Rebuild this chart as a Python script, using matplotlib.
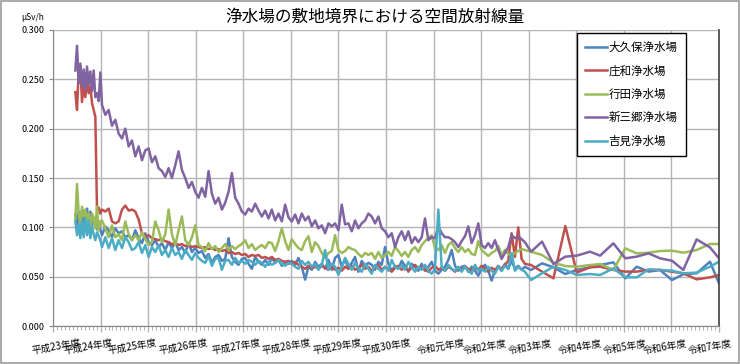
import numpy as np
import matplotlib
matplotlib.use('Agg')
import matplotlib.pyplot as plt
from matplotlib.ticker import MultipleLocator
from matplotlib.patches import Rectangle

plt.rcParams['font.family'] = ['Noto Sans CJK JP', 'DejaVu Sans']

# time in years from the left edge of the chart (one grid column = one fiscal year)
earlyTimes = np.arange(0.47, 1.0, 0.035)
monthlyTimes = 1.03 + 0.07 * np.arange(128)
quarterlyTimes = [10.05, 10.28, 10.52, 10.77, 11.01, 11.29, 11.50, 11.78, 12.03,
                  12.27, 12.52, 12.76, 13.01, 13.25, 13.53, 13.81, 14.0]

names = ['大久保浄水場', '庄和浄水場', '行田浄水場', '新三郷浄水場', '吉見浄水場']
colors = ['#4F81BD', '#C0504D', '#9BBB59', '#8064A2', '#4BACC6']

yearLabels = ['平成23年度', '平成24年度', '平成25年度', '平成26年度', '平成27年度',
              '平成28年度', '平成29年度', '平成30年度', '令和元年度', '令和2年度',
              '令和3年度', '令和4年度', '令和5年度', '令和6年度', '令和7年度']
yearLabelTimes = [0.06, 0.74, 1.66, 2.75, 3.85, 4.90, 5.97, 7.00, 8.16, 9.08,
                  10.03, 11.08, 12.02, 12.87, 13.81]

# 大久保
okuboEarly = [0.113, 0.103, 0.116, 0.099, 0.118, 0.101, 0.112, 0.119,
              0.104, 0.116, 0.101, 0.110, 0.107, 0.098, 0.104, 0.097]
okuboMonthly = [0.092, 0.101, 0.097, 0.090, 0.099, 0.094, 0.096, 0.090, 0.092, 0.087,
                0.097, 0.089, 0.084, 0.094, 0.085, 0.082, 0.087, 0.080, 0.084, 0.077,
                0.085, 0.079, 0.085, 0.077, 0.080, 0.074, 0.084, 0.075, 0.079, 0.074,
                0.076, 0.069, 0.073, 0.064, 0.070, 0.072, 0.066, 0.068, 0.089, 0.070,
                0.065, 0.062, 0.068, 0.069, 0.063, 0.058, 0.070, 0.065, 0.062, 0.067,
                0.062, 0.069, 0.064, 0.067, 0.061, 0.065, 0.063, 0.066, 0.062, 0.069,
                0.060, 0.047, 0.060, 0.057, 0.065, 0.060, 0.063, 0.058, 0.067, 0.057,
                0.069, 0.072, 0.060, 0.068, 0.058, 0.064, 0.070, 0.055, 0.066, 0.061,
                0.064, 0.062, 0.057, 0.065, 0.062, 0.080, 0.063, 0.056, 0.061, 0.058,
                0.066, 0.061, 0.055, 0.063, 0.060, 0.056, 0.063, 0.056, 0.060, 0.065,
                0.056, 0.053, 0.057, 0.060, 0.067, 0.077, 0.061, 0.056, 0.060, 0.061,
                0.055, 0.060, 0.056, 0.051, 0.058, 0.062, 0.056, 0.046, 0.056, 0.061,
                0.056, 0.063, 0.058, 0.066, 0.058, 0.061, 0.057, 0.060]
okuboQuarterly = [0.0568, 0.0635, 0.0595, 0.0527, 0.0568, 0.0595, 0.0618, 0.0645, 0.0483,
                  0.0601, 0.0551, 0.0568, 0.0466, 0.0524, 0.0534, 0.0652, 0.0432]

# 庄和
showaEarly = [0.237, 0.219, 0.259, 0.263, 0.227, 0.245, 0.232, 0.249,
              0.236, 0.243, 0.226, 0.219, 0.212, 0.118, 0.120, 0.114]
showaMonthly = [0.118, 0.116, 0.119, 0.106, 0.104, 0.106, 0.118, 0.122, 0.117, 0.118,
                0.116, 0.108, 0.094, 0.091, 0.092, 0.089, 0.088, 0.087, 0.088, 0.086,
                0.085, 0.083, 0.084, 0.082, 0.083, 0.081, 0.082, 0.080, 0.081, 0.080,
                0.079, 0.080, 0.078, 0.079, 0.077, 0.078, 0.076, 0.077, 0.074, 0.075,
                0.073, 0.074, 0.072, 0.073, 0.070, 0.072, 0.071, 0.072, 0.069, 0.070,
                0.068, 0.070, 0.067, 0.068, 0.066, 0.065, 0.066, 0.063, 0.065, 0.062,
                0.060, 0.058, 0.061, 0.059, 0.060, 0.058, 0.061, 0.059, 0.057, 0.060,
                0.057, 0.059, 0.056, 0.060, 0.058, 0.061, 0.057, 0.059, 0.062, 0.058,
                0.060, 0.056, 0.059, 0.062, 0.057, 0.060, 0.058, 0.055, 0.059, 0.061,
                0.057, 0.060, 0.056, 0.059, 0.062, 0.058, 0.060, 0.057, 0.055, 0.059,
                0.061, 0.057, 0.059, 0.056, 0.060, 0.058, 0.055, 0.059, 0.057, 0.060,
                0.058, 0.056, 0.059, 0.057, 0.061, 0.058, 0.055, 0.059, 0.057, 0.060,
                0.058, 0.062, 0.066, 0.094, 0.070, 0.100, 0.068, 0.063]
showaQuarterly = [0.0618, 0.0551, 0.0483, 0.1013, 0.0541, 0.0595, 0.0601, 0.0568, 0.0551,
                  0.0551, 0.0568, 0.0568, 0.0551, 0.0534, 0.0473, 0.0493, 0.0517]

# 行田
gyodaEarly = [0.108, 0.144, 0.114, 0.102, 0.121, 0.111, 0.118, 0.107,
              0.114, 0.097, 0.114, 0.109, 0.099, 0.121, 0.097, 0.106]
gyodaMonthly = [0.107, 0.099, 0.090, 0.102, 0.090, 0.093, 0.087, 0.106, 0.093, 0.087,
                0.092, 0.087, 0.095, 0.088, 0.082, 0.085, 0.106, 0.097, 0.085, 0.093,
                0.118, 0.093, 0.082, 0.097, 0.111, 0.087, 0.082, 0.090, 0.102, 0.082,
                0.080, 0.076, 0.084, 0.078, 0.081, 0.075, 0.079, 0.083, 0.077, 0.081,
                0.078, 0.081, 0.083, 0.087, 0.079, 0.083, 0.077, 0.080, 0.082, 0.079,
                0.085, 0.084, 0.076, 0.086, 0.099, 0.086, 0.077, 0.088, 0.083, 0.079,
                0.077, 0.086, 0.091, 0.075, 0.085, 0.081, 0.074, 0.069, 0.074, 0.076,
                0.092, 0.077, 0.074, 0.076, 0.080, 0.078, 0.077, 0.073, 0.070, 0.074,
                0.072, 0.074, 0.068, 0.075, 0.069, 0.072, 0.075, 0.071, 0.080, 0.076,
                0.071, 0.075, 0.070, 0.077, 0.080, 0.075, 0.082, 0.086, 0.089, 0.092,
                0.079, 0.077, 0.082, 0.074, 0.082, 0.085, 0.079, 0.075, 0.080, 0.075,
                0.078, 0.073, 0.072, 0.086, 0.077, 0.074, 0.071, 0.074, 0.076, 0.081,
                0.072, 0.077, 0.073, 0.071, 0.074, 0.076, 0.078, 0.077]
gyodaQuarterly = [0.0753, 0.0720, 0.0642, 0.0608, 0.0601, 0.0618, 0.0628, 0.0568, 0.0787,
                  0.0736, 0.0743, 0.0760, 0.0764, 0.0743, 0.0770, 0.0831, 0.0831]

# 新三郷
shinmisatoEarly = [0.259, 0.284, 0.246, 0.266, 0.243, 0.260, 0.239, 0.263,
                   0.245, 0.258, 0.238, 0.259, 0.232, 0.236, 0.228, 0.257]
shinmisatoMonthly = [0.224, 0.214, 0.219, 0.203, 0.209, 0.195, 0.190, 0.200, 0.182, 0.188,
                     0.172, 0.182, 0.168, 0.178, 0.180, 0.166, 0.172, 0.160, 0.157, 0.151,
                     0.160, 0.150, 0.163, 0.177, 0.158, 0.150, 0.140, 0.146, 0.136, 0.130,
                     0.140, 0.131, 0.157, 0.134, 0.124, 0.130, 0.118, 0.125, 0.136, 0.155,
                     0.130, 0.124, 0.116, 0.113, 0.119, 0.116, 0.124, 0.117, 0.111, 0.117,
                     0.109, 0.118, 0.107, 0.114, 0.106, 0.123, 0.110, 0.106, 0.113, 0.104,
                     0.114, 0.107, 0.111, 0.101, 0.107, 0.099, 0.102, 0.094, 0.104, 0.101,
                     0.104, 0.097, 0.123, 0.103, 0.104, 0.096, 0.107, 0.099, 0.104, 0.107,
                     0.114, 0.111, 0.104, 0.111, 0.099, 0.096, 0.090, 0.094, 0.080, 0.090,
                     0.096, 0.087, 0.096, 0.084, 0.090, 0.085, 0.090, 0.109, 0.087, 0.090,
                     0.089, 0.101, 0.094, 0.090, 0.090, 0.088, 0.085, 0.080, 0.086, 0.091,
                     0.101, 0.084, 0.092, 0.104, 0.082, 0.079, 0.084, 0.079, 0.087, 0.077,
                     0.068, 0.074, 0.080, 0.092, 0.089, 0.091, 0.088, 0.085]
shinmisatoQuarterly = [0.0753, 0.0855, 0.0628, 0.0703, 0.0713, 0.0753, 0.0713, 0.0838, 0.0686,
                       0.0703, 0.0736, 0.0686, 0.0662, 0.0568, 0.0878, 0.0797, 0.0686]

# 吉見
yoshimiEarly = [0.106, 0.092, 0.103, 0.089, 0.107, 0.090, 0.109, 0.092,
                0.107, 0.089, 0.101, 0.093, 0.087, 0.095, 0.091, 0.087]
yoshimiMonthly = [0.080, 0.090, 0.079, 0.089, 0.077, 0.087, 0.079, 0.090, 0.085, 0.077,
                  0.079, 0.085, 0.074, 0.082, 0.070, 0.080, 0.075, 0.082, 0.072, 0.077,
                  0.070, 0.079, 0.072, 0.075, 0.068, 0.077, 0.072, 0.067, 0.074, 0.069,
                  0.066, 0.064, 0.071, 0.061, 0.068, 0.069, 0.057, 0.066, 0.067, 0.062,
                  0.069, 0.064, 0.066, 0.063, 0.067, 0.065, 0.062, 0.066, 0.064, 0.060,
                  0.065, 0.062, 0.064, 0.067, 0.063, 0.061, 0.064, 0.063, 0.060, 0.058,
                  0.066, 0.062, 0.065, 0.060, 0.063, 0.057, 0.062, 0.077, 0.057, 0.063,
                  0.060, 0.052, 0.060, 0.069, 0.063, 0.057, 0.064, 0.058, 0.055, 0.063,
                  0.058, 0.053, 0.062, 0.058, 0.055, 0.060, 0.056, 0.067, 0.060, 0.058,
                  0.062, 0.057, 0.065, 0.060, 0.055, 0.060, 0.057, 0.062, 0.056, 0.053,
                  0.058, 0.118, 0.060, 0.056, 0.062, 0.058, 0.056, 0.060, 0.055, 0.060,
                  0.056, 0.053, 0.062, 0.056, 0.058, 0.055, 0.060, 0.056, 0.053, 0.060,
                  0.056, 0.061, 0.058, 0.074, 0.056, 0.060, 0.057, 0.055]
yoshimiQuarterly = [0.0466, 0.0534, 0.0601, 0.0568, 0.0517, 0.0527, 0.0517, 0.0584, 0.0493,
                    0.0493, 0.0574, 0.0568, 0.0561, 0.0534, 0.0541, 0.0601, 0.0652]

seriesData = [
    (okuboEarly, okuboMonthly, okuboQuarterly),
    (showaEarly, showaMonthly, showaQuarterly),
    (gyodaEarly, gyodaMonthly, gyodaQuarterly),
    (shinmisatoEarly, shinmisatoMonthly, shinmisatoQuarterly),
    (yoshimiEarly, yoshimiMonthly, yoshimiQuarterly),
]


def lineGraph():
    figure = plt.figure(figsize=(7.4, 3.64), dpi=100)
    axis = figure.add_axes([53 / 740, 1 - 326 / 364, 666 / 740, 296 / 364])

    gridColor = '#B4B4B4'
    axis.set_axisbelow(True)
    axis.grid(True, which='major', color=gridColor, linewidth=1.0)

    lines = []
    for name, color, (early, monthly, quarterly) in zip(names, colors, seriesData):
        times = np.concatenate([earlyTimes[:len(early)], monthlyTimes[:len(monthly)], quarterlyTimes])
        values = np.concatenate([early, monthly, quarterly])
        line, = axis.plot(times, values, color=color, linewidth=1.8, solid_joinstyle='round')
        lines.append(line)

    axis.set_xlim(0, 14)
    axis.set_ylim(0, 0.3)
    axis.xaxis.set_major_locator(MultipleLocator(1))
    axis.xaxis.set_minor_locator(MultipleLocator(1 / 12))
    axis.yaxis.set_major_locator(MultipleLocator(0.05))
    axis.yaxis.set_major_formatter(matplotlib.ticker.FormatStrFormatter('%.3f'))
    axis.set_xticklabels([])

    axis.tick_params(axis='x', which='major', length=4, color=gridColor, width=1.0)
    axis.tick_params(axis='x', which='minor', length=3, color=gridColor, width=0.8)
    axis.tick_params(axis='y', which='major', length=3, color='#868686', width=0.8,
                     labelsize=6.5, pad=3, labelcolor='#000000')

    axis.spines['top'].set_visible(False)
    axis.spines['left'].set_color('#868686')
    axis.spines['bottom'].set_color('#868686')
    axis.spines['right'].set_color('#404040')
    axis.spines['right'].set_linewidth(1.2)

    labelTransform = axis.get_xaxis_transform()
    for label, t in zip(yearLabels, yearLabelTimes):
        axis.text(t, -0.07, label, transform=labelTransform, rotation=10, fontsize=7,
                  ha='center', va='center', rotation_mode='anchor')

    figure.text(33 / 740, 1 - 18 / 364, 'μSv/h', fontsize=6, ha='center', va='center')
    figure.text(375 / 740, 1 - 17 / 364, '浄水場の敷地境界における空間放射線量', fontsize=12,
                ha='center', va='center')

    legend = axis.legend(lines, names, loc='upper left', bbox_to_anchor=(577 / 740, 1 - 33 / 364),
                         bbox_transform=figure.transFigure, fontsize=8.3, frameon=True,
                         fancybox=False, edgecolor='#000000', framealpha=1, borderpad=0.7,
                         handlelength=1.9, handletextpad=0.15, labelspacing=0.9,
                         borderaxespad=0)
    legend.get_frame().set_linewidth(1.0)

    figure.patches.append(Rectangle((0.001, 0.002), 0.997, 0.995, transform=figure.transFigure,
                                    fill=False, edgecolor='#9C9C9C', linewidth=1.2))

    figure.savefig('out.png', dpi=100)


lineGraph()
